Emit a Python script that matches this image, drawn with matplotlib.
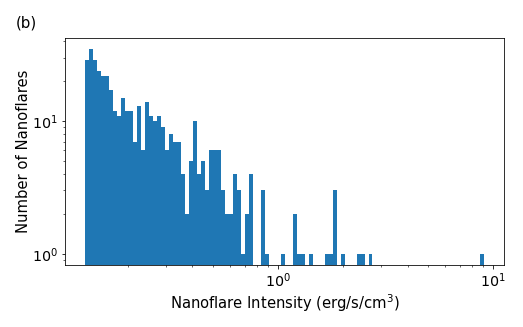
import numpy as np
import matplotlib
matplotlib.use('Agg')
import matplotlib.pyplot as plt

# intensity range of the events (erg/s/cm^3) and counts per log bin
i_min = 0.1265
i_max = 9.1
n_bins = 100

counts = [29, 35, 29, 24, 22, 22, 17, 12, 11, 15,
          12, 12, 7, 13, 6, 14, 11, 10, 11, 9,
          6, 8, 7, 7, 4, 2, 5, 10, 4, 5,
          3, 6, 6, 6, 3, 2, 2, 4, 3, 1,
          2, 4, 0, 0, 3, 1, 0, 0, 0, 1,
          0, 0, 2, 1, 1, 0, 1, 0, 0, 0,
          1, 1, 3, 0, 1, 0, 0, 0, 1, 1,
          0, 1, 0, 0, 0, 0, 0, 0, 0, 0,
          0, 0, 0, 0, 0, 0, 0, 0, 0, 0,
          0, 0, 0, 0, 0, 0, 0, 0, 0, 1]

edges = np.logspace(np.log10(i_min), np.log10(i_max), n_bins + 1)
centers = np.sqrt(edges[:-1] * edges[1:])

# drawn at 72 dpi so points == pixels, like the original
fig = plt.figure(figsize=(523 / 72, 327 / 72), dpi=72)
ax = fig.add_axes([0.1243, 0.191, 0.8399, 0.692])

ax.hist(centers, bins=edges, weights=counts, color='#1f77b4')
ax.set_xscale('log')
ax.set_yscale('log')
ax.set_ylim(0.83, 42)

ax.set_xlabel('Nanoflare Intensity (erg/s/cm$^3$)', fontsize=14.7, labelpad=2.5)
ax.set_ylabel('Number of Nanoflares', fontsize=14.7, labelpad=1.5)
ax.tick_params(labelsize=14.3)

fig.text(0.031, 0.93, '(b)', fontsize=15, va='center')

plt.savefig('out.png', dpi=72)
